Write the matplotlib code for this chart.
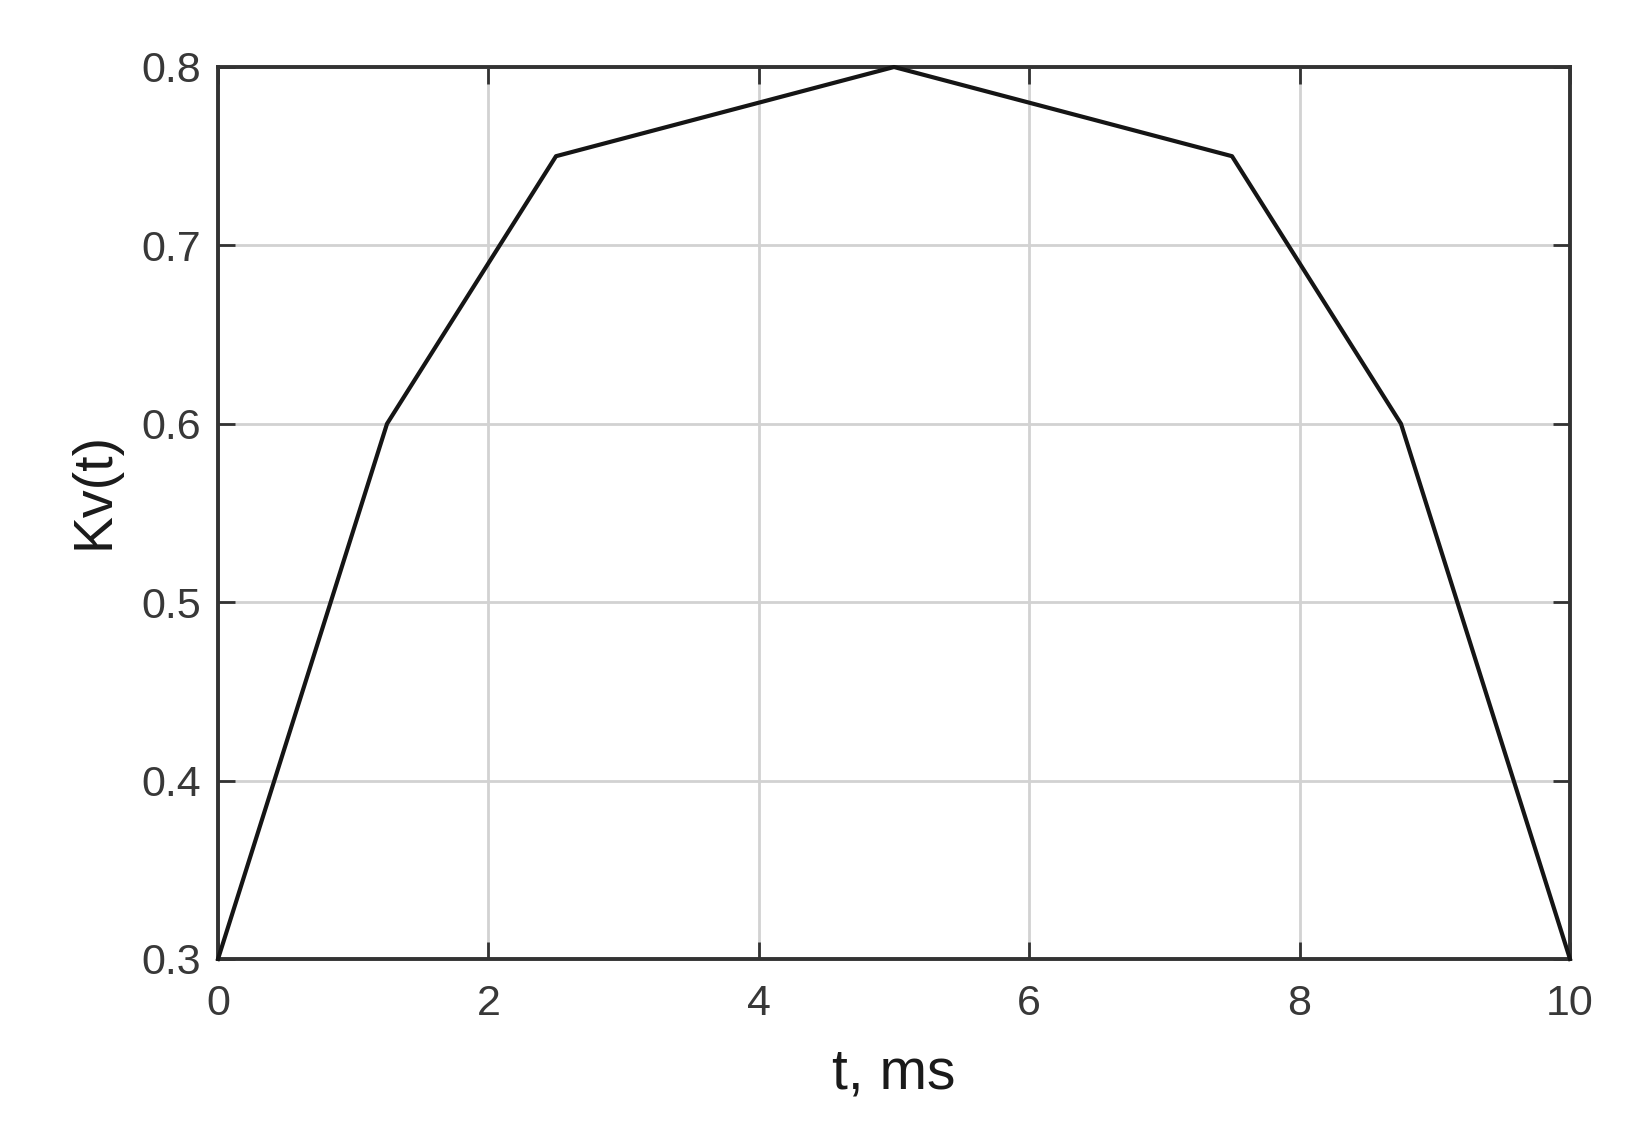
import matplotlib
matplotlib.use("Agg")
import matplotlib.pyplot as plt

t_ms = [0, 1.25, 2.5, 5, 7.5, 8.75, 10]
kv = [0.3, 0.6, 0.75, 0.8, 0.75, 0.6, 0.3]
xticks = [0, 2, 4, 6, 8, 10]
yticks = [0.3, 0.4, 0.5, 0.6, 0.7, 0.8]

plt.rcParams['font.family'] = ['Liberation Sans', 'DejaVu Sans']

fig = plt.figure(figsize=(16.52, 11.44), dpi=100)
ax = fig.add_axes([218/1652, 1 - 959/1144, (1570-218)/1652, (959-67)/1144])

ax.plot(t_ms, kv, color='#151515', lw=3.0, zorder=3, clip_on=False)
ax.set_xlim(0, 10)
ax.set_ylim(0.3, 0.8)
ax.set_xticks(xticks)
ax.set_yticks(yticks)
ax.set_xticklabels([str(v) for v in xticks])
ax.set_yticklabels([f"{v:.1f}" for v in yticks])
ax.grid(True, color='#d2d2d2', lw=2.0, zorder=0)
for s in ax.spines.values():
    s.set_color('#333333')
    s.set_linewidth(2.8)
ax.tick_params(direction='in', length=12, width=2, colors='#333333',
               top=True, right=True, labelsize=31, labelcolor='#383838')
ax.tick_params(axis='x', pad=18)
ax.tick_params(axis='y', pad=12)

ax.set_xlabel('t, ms', fontsize=41, color='#1a1a1a')
ax.set_ylabel('Kv(t)', fontsize=40, color='#1a1a1a')
ax.xaxis.set_label_coords(0.5, -0.098)
ax.yaxis.set_label_coords(-0.072, 0.525)

fig.savefig('out.png', dpi=100, facecolor='white')
